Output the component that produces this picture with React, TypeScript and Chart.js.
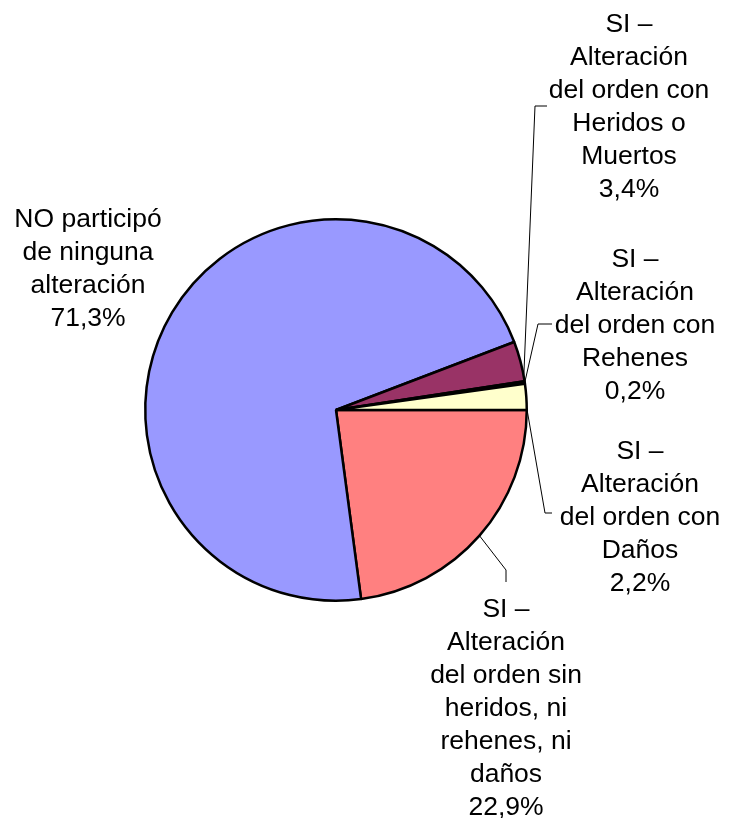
import React, { useEffect, useRef } from "react";
import { Chart, registerables } from "chart.js";

Chart.register(...registerables);

// Data (clockwise from 3 o'clock)
const categories = [
  "SI –\nAlteración\ndel orden sin\nheridos, ni\nrehenes, ni\ndaños",
  "NO participó\nde ninguna\nalteración",
  "SI –\nAlteración\ndel orden con\nHeridos o\nMuertos",
  "SI –\nAlteración\ndel orden con\nRehenes",
  "SI –\nAlteración\ndel orden con\nDaños",
];
const values = [22.9, 71.3, 3.4, 0.2, 2.2];
const valueLabels = ["22,9%", "71,3%", "3,4%", "0,2%", "2,2%"];
const colors = ["#FF8080", "#9999FF", "#993366", "#CC3399", "#FFFFCC"];

// Label layout (canvas coords): text center x, first line center y, leader polyline (after arc anchor)
const labelLayout = [
  { x: 506, y: 610, anchorFrac: 0.5, leader: [[506, 570], [506, 582]] },
  { x: 88, y: 220, anchorFrac: 0.5, leader: null },
  { x: 629, y: 25, anchorFrac: 0.88, leader: [[535, 106], [547, 106]] },
  { x: 635, y: 260, anchorFrac: 0.5, leader: [[538, 324], [552, 324]] },
  { x: 640, y: 452, anchorFrac: 0.92, leader: [[545, 513], [552, 513]] },
];

const FONT = "26.5px 'Liberation Sans', Arial, sans-serif";
const LINE_H = 33.0;

const labelPlugin = {
  id: "pieLabels",
  afterDatasetsDraw(chart: any) {
    const ctx = chart.ctx;
    const meta = chart.getDatasetMeta(0);
    ctx.save();
    meta.data.forEach((arc: any, i: number) => {
      const cfg = labelLayout[i];
      const p = arc.getProps(["x", "y", "startAngle", "endAngle", "outerRadius"], true);
      if (cfg.leader) {
        const a = p.startAngle + (p.endAngle - p.startAngle) * cfg.anchorFrac;
        const sx = p.x + Math.cos(a) * p.outerRadius;
        const sy = p.y + Math.sin(a) * p.outerRadius;
        ctx.beginPath();
        ctx.strokeStyle = "#000";
        ctx.lineWidth = 1;
        ctx.moveTo(sx, sy);
        cfg.leader.forEach((pt: number[]) => ctx.lineTo(pt[0], pt[1]));
        ctx.stroke();
      }
      const lines = categories[i].split("\n").concat([valueLabels[i]]);
      ctx.fillStyle = "#000";
      ctx.font = FONT;
      ctx.textAlign = "center";
      ctx.textBaseline = "middle";
      lines.forEach((ln: string, k: number) => {
        ctx.fillText(ln, cfg.x, cfg.y + k * LINE_H);
      });
    });
    ctx.restore();
  },
};

export default function App() {
  const ref = useRef<HTMLCanvasElement | null>(null);
  useEffect(() => {
    if (!ref.current) return;
    const chart = new Chart(ref.current, {
      type: "pie",
      data: {
        labels: categories,
        datasets: [
          {
            data: values,
            backgroundColor: colors,
            borderColor: "#000",
            borderWidth: 2.5,
          },
        ],
      },
      options: {
        responsive: false,
        animation: false,
        rotation: 90,
        layout: { padding: { left: 144, right: 207, top: 218, bottom: 216 } },
        plugins: {
          legend: { display: false },
          tooltip: { enabled: false },
          title: { display: false },
        },
      },
      plugins: [labelPlugin],
    });
    return () => chart.destroy();
  }, []);
  return (
    <div style={{ position: "absolute", left: 0, top: 0, width: 735, height: 818, background: "#fff" }}>
      <canvas ref={ref} width={735} height={818} />
    </div>
  );
}
